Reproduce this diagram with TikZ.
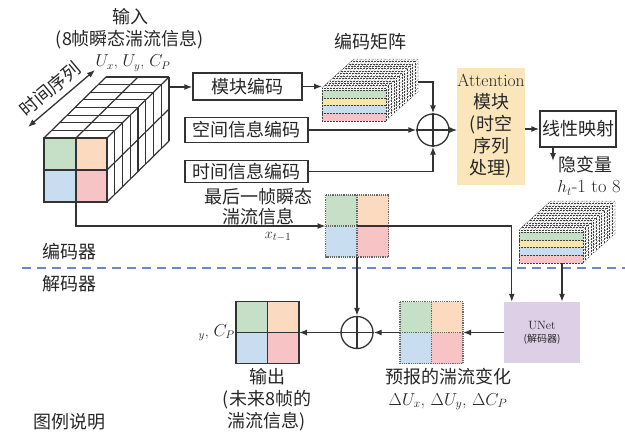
\documentclass[tikz,border=0pt]{standalone}
\usepackage{fontspec}
\newfontfamily\cjk{Noto Sans CJK SC}
\usetikzlibrary{arrows.meta,positioning,calc}
\definecolor{cgreen}{HTML}{C6E0C8}
\definecolor{corange}{HTML}{FCDABF}
\definecolor{cblue}{HTML}{C8DDF0}
\definecolor{cred}{HTML}{F7C3C5}
\definecolor{cyellow}{HTML}{F8E7AA}
\definecolor{attn}{HTML}{FBE6BC}
\definecolor{unetc}{HTML}{DCCFE6}
\definecolor{sepc}{HTML}{6A88CC}
\tikzset{lbl/.style={font=\cjk\fontsize{18}{22}\selectfont,align=center,inner sep=0pt,text=black!85},
 latin/.style={lbl,font=\rmfamily\fontsize{16}{22}\selectfont},
 encbox/.style={lbl,draw=black!80,line width=1.3pt},
 arr/.style={-{Latex[length=8pt,width=6pt]},line width=1.3pt,draw=black!80},
 dblarr/.style={arr,{Latex[length=8pt,width=6pt]}-{Latex[length=8pt,width=6pt]}},
 oplus/.style={circle,draw=black!80,line width=1.3pt,minimum size=32pt,inner sep=0pt},
 sq/.style={minimum width=63pt,minimum height=62pt,inner sep=0pt,outer sep=0pt},
 grid/.style={line width=1.2pt,draw=black!80},
 dotgrid/.style={line width=1.2pt,draw=black!60,densely dotted},
 hatch/.style={line width=.5pt,draw=black!75,densely dotted},
 sepline/.style={line width=1.5pt,draw=sepc,dash pattern=on 9pt off 6pt}}
\newcommand\cells[2]{%
 \fill[cgreen] (#1.north west) rectangle (#1.center);
 \fill[corange] (#1.north east) rectangle (#1.center);
 \fill[cblue] (#1.south west) rectangle (#1.center);
 \fill[cred] (#1.south east) rectangle (#1.center);
 \draw[#2] (#1.north west) rectangle (#1.south east) (#1.north) -- (#1.south) (#1.west) -- (#1.east);}
\newcommand\bandcube[2]{%
 \begin{scope}[shift={(#1,#2)}]
 \fill[white] (0,0) -- (32,-29) -- (96,-29) -- (96,4) -- (64,33) -- (64,0) -- cycle;
 \foreach \i in {1,...,11} \draw[hatch] ({\i*32/12},{-\i*29/12}) -- ++(64,0);
 \foreach \i in {0,...,16} \draw[hatch] ({\i*4},0) -- ++(32,-29);
 \foreach \i in {1,...,11} \draw[hatch] ({64+\i*32/12},{-\i*29/12}) -- ++(0,33);
 \foreach \k in {1,...,7} \draw[hatch] (64,{\k*33/8}) -- ++(32,-29);
 \fill[cgreen] (0,2) rectangle (64,10);
 \fill[cyellow] (0,10) rectangle (64,17);
 \fill[cblue] (0,17) rectangle (64,25);
 \fill[cred] (0,25) rectangle (64,33);
 \foreach \y in {2,10,17,25} \draw[hatch] (0,\y) -- ++(64,0);
 \draw[hatch] (0,0) rectangle (64,33);
 \draw[hatch] (0,0) -- (32,-29) -- (96,-29) -- (96,4) -- (64,33);
 \end{scope}}

\begin{document}
\begin{tikzpicture}[x=1pt,y=-1pt]
\useasboundingbox (0,0) rectangle (625,434);
% input cube
\fill[cgreen] (44,138) rectangle (76,170);
\fill[corange] (76,138) rectangle (107,170);
\fill[cblue] (44,170) rectangle (76,202);
\fill[cred] (76,170) rectangle (107,202);
\foreach \i in {0,...,8}{
 \draw[grid] ({44+\i*62/8},{138-\i*61/8}) -- ++(63,0);
 \draw[grid] ({107+\i*62/8},{138-\i*61/8}) -- ++(0,64);}
\foreach \x in {44,76,107} \draw[grid] (\x,138) -- ++(62,-61);
\foreach \y in {170,202} \draw[grid] (107,\y) -- ++(62,-61);
\draw[grid] (44,138) rectangle (107,202) (76,138) -- (76,202) (44,170) -- (107,170);
\coordinate (tlo) at (28,127);
\coordinate (thi) at (95,70);
\draw[dblarr] (tlo) -- (thi);
\node[lbl,rotate=40] (tseq) at (50,89) {时间序列};
\node[lbl] (in1) at (130,17) {输入};
\node[lbl] (in2) at (130,40) {(8帧瞬态湍流信息)};
\node[latin] (in3) at (133,63) {$U_x$, $U_y$, $C_P$};
\coordinate (cubeout) at (170,87);
\coordinate (cubebot) at (76,202);

% encoder
\node[encbox,minimum width=109pt,minimum height=27pt] (mk) at (247.5,86.5) {模块编码};
\node[encbox,minimum width=123pt,minimum height=25pt] (kj) at (246.5,130) {空间信息编码};
\node[encbox,minimum width=123pt,minimum height=22pt] (sj) at (246.5,171.5) {时间信息编码};
\draw[arr] (cubeout) -- (cubeout -| mk.west);
\bandcube{322}{88}
\coordinate (encin) at (322,87);
\coordinate (encout) at (418,82);
\node[lbl] (encl) at (370,42) {编码矩阵};
\draw[arr] (mk.east) -- (mk.east -| encin);
\node[oplus] (p1) at (433,130) {};
\draw[grid] (p1.north) -- (p1.south) (p1.west) -- (p1.east);
\draw[arr] (encout) -| (p1.north);
\draw[arr] (kj.east) -- (p1.west);
\draw[arr] (sj.east) -| (p1.south);
\node[lbl,fill=attn,minimum width=65pt,minimum height=117pt] (attn) at (491,126.5)
 {{\rmfamily\fontsize{17.5}{22}\selectfont Attention}\\模块\\(时空\\序列\\处理)};
\draw[arr] (p1.east) -- (p1.east -| attn.west);
\node[encbox,minimum width=76pt,minimum height=36pt] (lin) at (578,129) {线性映射};
\draw[arr] (attn.east |- lin.west) -- (lin.west);
\coordinate (hv) at (553,161);
\draw[arr] (hv |- lin.south) -- (hv);
\node[lbl,anchor=west] (hvl) at (558,165) {隐变量};
\node[latin,font=\rmfamily\fontsize{18.5}{22}\selectfont] (hnum) at (589,188) {$h_t$-1 to 8};
\bandcube{519}{230}
\coordinate (latout) at (562,263);

% last frame
\node[sq] (xt) at (357,226) {};
\cells{xt}{dotgrid}
\node[lbl,font=\cjk\fontsize{18}{20}\selectfont] (lastl) at (258,206.5) {最后一帧瞬态\\湍流信息};
\node[latin,font=\rmfamily\fontsize{15}{18}\selectfont] (xtl) at (278,237) {$x_{t-1}$};
\draw[arr] (cubebot) |- (xt.west);

% separator
\coordinate (sepL) at (22,268);
\coordinate (sepR) at (625,268);
\draw[sepline] (sepL) -- (sepR);
\node[lbl] (encn) at (69,252) {编码器};
\node[lbl] (decn) at (69,284) {解码器};

% decoder
\node[lbl,fill=unetc,minimum width=76pt,minimum height=61pt,font=\cjk\fontsize{10}{13}\selectfont] (unet) at (542,332.5)
 {{\rmfamily\fontsize{12}{13}\selectfont UNet}\\(解码器)};
\draw[arr] (xt.center) -| ($(unet.north west)+(8,0)$);
\draw[arr] (latout) -- (latout |- unet.north);
\node[oplus] (p2) at (357,332.5) {};
\draw[grid] (p2.north) -- (p2.south) (p2.west) -- (p2.east);
\draw[arr] (xt.south) -- (p2.north);
\node[sq] (pred) at (431.5,332.5) {};
\cells{pred}{dotgrid}
\node[sq] (out) at (267.5,332.5) {};
\cells{out}{grid}
\draw[arr] (unet.west) -- (pred.east);
\draw[arr] (pred.west) -- (p2.east);
\draw[arr] (p2.west) -- (out.east);
\node[latin,left=1pt of out.west] (outv) {$_y$, $C_P$};
\node[lbl] (outl) at (267,400) {输出\\(未来8帧的\\湍流信息)};
\node[lbl] (predl) at (448,389) {预报的湍流变化\\{\rmfamily $\Delta U_x$, $\Delta U_y$, $\Delta C_P$}};
\node[lbl] (legend) at (70,422) {图例说明};
\end{tikzpicture}
\end{document}
